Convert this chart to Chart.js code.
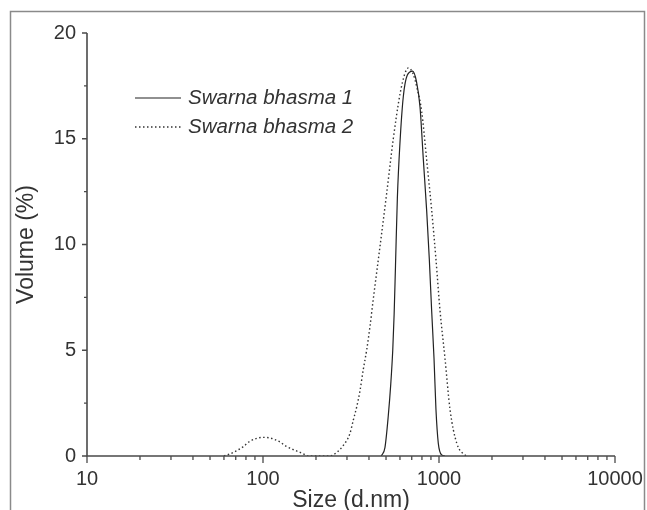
<!DOCTYPE html>
<html>
<head>
<meta charset="utf-8">
<script src="https://cdn.jsdelivr.net/npm/chart.js@4"></script>
<style>
  html, body { margin: 0; padding: 0; background: #fff; }
  #wrap { width: 647px; height: 510px; }
</style>
</head>
<body>
<div id="wrap"><canvas id="chart" width="647" height="510"></canvas></div>
<script>
// Swarna bhasma 1 (solid line)
const sizes1 = [470, 493, 515, 532, 546, 556, 566, 580, 600, 627, 660, 708, 745, 780, 815, 851, 881, 908, 937, 961, 991, 1036, 1080];
const volume1 = [0, 0.4, 1.9, 3.4, 5.0, 6.7, 9.0, 12.2, 14.8, 17.0, 18.0, 18.2, 17.7, 16.5, 14.0, 11.6, 9.3, 6.9, 4.6, 2.2, 0.6, 0.05, 0];

// Swarna bhasma 2 (dotted line)
const sizes2 = [60, 65, 77, 84, 100, 110, 125, 136, 152, 169, 180, 240, 262, 286, 312, 326, 341, 356, 371, 388, 405, 423, 462, 504, 550, 600, 641, 670, 710, 750, 797, 851, 908, 961, 1013, 1082, 1155, 1262, 1405, 1470];
const volume2 = [0, 0.1, 0.43, 0.69, 0.88, 0.85, 0.66, 0.45, 0.27, 0.11, 0, 0, 0.17, 0.5, 1.07, 1.7, 2.33, 3.1, 4.07, 5.0, 6.1, 7.4, 9.9, 12.4, 15.0, 17.1, 18.1, 18.35, 18.1, 17.4, 16.3, 14.0, 11.65, 9.3, 6.9, 4.6, 2.2, 0.6, 0.05, 0];

const seriesNames = ["Swarna bhasma 1", "Swarna bhasma 2"];

const xTickLabels = [10, 100, 1000, 10000];
const xMinorTicks = [20, 30, 40, 50, 60, 70, 80, 90, 200, 300, 400, 500, 600, 700, 800, 900, 2000, 3000, 4000, 5000, 6000, 7000, 8000, 9000];
const yTickLabels = [0, 5, 10, 15, 20];
const yMinorTicks = [2.5, 7.5, 12.5, 17.5];

const ink = "#333";
const axisColor = "#4a4a4a";
const fontFamily = "'Liberation Sans', Arial, sans-serif";

function toPoints(xs, ys) {
  return xs.map((x, i) => ({ x: x, y: ys[i] }));
}

// frame, axis lines, ticks and the legend
const decorPlugin = {
  id: "decor",
  beforeDraw(chart) {
    const ctx = chart.ctx;
    ctx.save();
    ctx.fillStyle = "#fff";
    ctx.fillRect(0, 0, chart.width, chart.height);
    ctx.strokeStyle = "#8a8a8a";
    ctx.lineWidth = 1.5;
    ctx.strokeRect(10.5, 11.5, 634, 520);
    ctx.restore();
  },
  afterDraw(chart) {
    const ctx = chart.ctx;
    const xs = chart.scales.x;
    const ys = chart.scales.y;
    const x0 = xs.getPixelForValue(10);
    const x1 = xs.getPixelForValue(10000);
    const y0 = ys.getPixelForValue(0);
    const y1 = ys.getPixelForValue(20);

    ctx.save();
    ctx.strokeStyle = axisColor;
    ctx.lineWidth = 1.6;
    ctx.beginPath();
    ctx.moveTo(x0, y1);
    ctx.lineTo(x0, y0);
    ctx.lineTo(x1, y0);
    ctx.stroke();

    ctx.lineWidth = 1.3;
    ctx.beginPath();
    xTickLabels.forEach(v => {
      const px = xs.getPixelForValue(v);
      ctx.moveTo(px, y0);
      ctx.lineTo(px, y0 + 7);
    });
    xMinorTicks.forEach(v => {
      const px = xs.getPixelForValue(v);
      ctx.moveTo(px, y0);
      ctx.lineTo(px, y0 + 4);
    });
    yTickLabels.forEach(v => {
      const py = ys.getPixelForValue(v);
      ctx.moveTo(x0, py);
      ctx.lineTo(x0 - 5, py);
    });
    yMinorTicks.forEach(v => {
      const py = ys.getPixelForValue(v);
      ctx.moveTo(x0, py);
      ctx.lineTo(x0 - 3, py);
    });
    ctx.stroke();

    // legend
    const rows = [98, 127];
    chart.data.datasets.forEach((ds, i) => {
      ctx.strokeStyle = ds.borderColor;
      ctx.lineWidth = ds.borderWidth;
      ctx.setLineDash(ds.borderDash || []);
      ctx.beginPath();
      ctx.moveTo(135, rows[i]);
      ctx.lineTo(181, rows[i]);
      ctx.stroke();
      ctx.setLineDash([]);
      ctx.fillStyle = ink;
      ctx.font = "italic 20.5px " + fontFamily;
      ctx.textBaseline = "middle";
      ctx.fillText(ds.label, 188, rows[i]);
    });
    ctx.restore();
  }
};

new Chart(document.getElementById("chart"), {
  type: "line",
  data: {
    datasets: [
      {
        label: seriesNames[0],
        data: toPoints(sizes1, volume1),
        borderColor: "#222",
        borderWidth: 1.2,
        pointRadius: 0,
        fill: false,
        cubicInterpolationMode: "monotone"
      },
      {
        label: seriesNames[1],
        data: toPoints(sizes2, volume2),
        borderColor: "#333",
        borderWidth: 1.4,
        borderDash: [1.5, 2.5],
        pointRadius: 0,
        fill: false,
        cubicInterpolationMode: "monotone"
      }
    ]
  },
  options: {
    responsive: false,
    animation: false,
    layout: { padding: { left: 10, right: 32, top: 33, bottom: 0 } },
    plugins: {
      legend: { display: false },
      tooltip: { enabled: false }
    },
    scales: {
      x: {
        type: "logarithmic",
        min: 10,
        max: 10000,
        afterFit: s => { s.height = 54; s.paddingRight = 0; },
        afterBuildTicks: s => { s.ticks = xTickLabels.map(v => ({ value: v })); },
        grid: { display: false, drawTicks: false },
        border: { display: false },
        ticks: {
          color: ink,
          padding: 11,
          maxRotation: 0,
          autoSkip: false,
          font: { family: fontFamily, size: 20 },
          callback: v => String(v)
        },
        title: {
          display: true,
          text: "Size (d.nm)",
          color: ink,
          padding: { top: 0, bottom: -4 },
          font: { family: fontFamily, size: 23 }
        }
      },
      y: {
        min: 0,
        max: 20,
        afterFit: s => { s.width = 77; },
        afterBuildTicks: s => { s.ticks = yTickLabels.map(v => ({ value: v })); },
        grid: { display: false, drawTicks: false },
        border: { display: false },
        ticks: {
          color: ink,
          padding: 11,
          font: { family: fontFamily, size: 20 }
        },
        title: {
          display: true,
          text: "Volume (%)",
          color: ink,
          padding: { top: 3, bottom: 0 },
          font: { family: fontFamily, size: 23 }
        }
      }
    }
  },
  plugins: [decorPlugin]
});
</script>
</body>
</html>
